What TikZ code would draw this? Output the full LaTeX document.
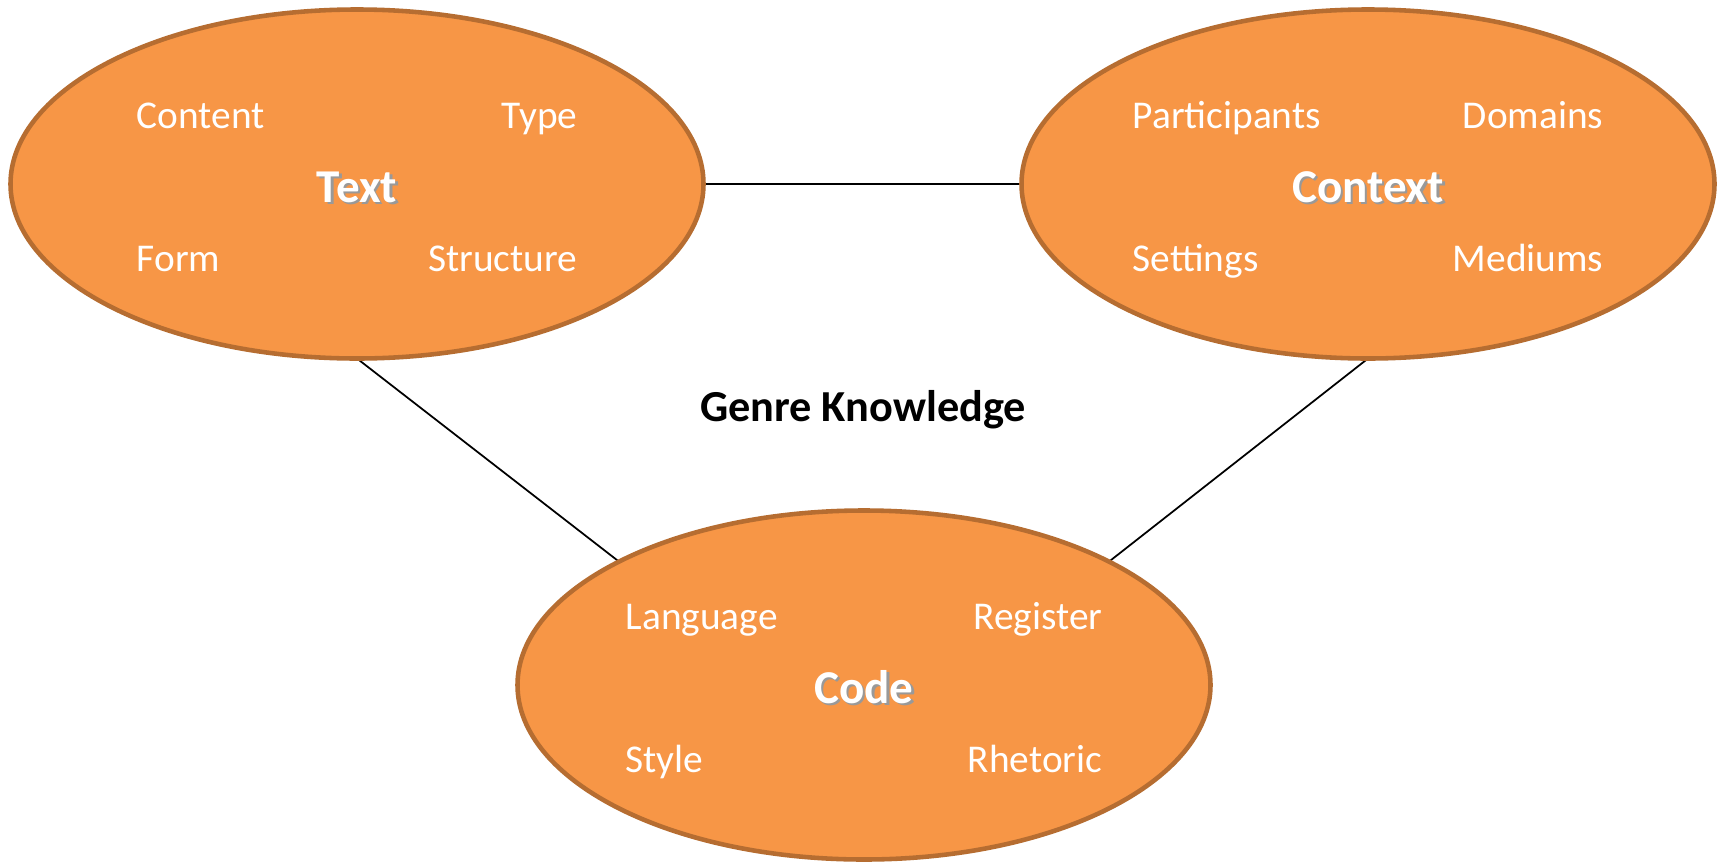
\documentclass[tikz,border=0pt]{standalone}
\usepackage{fontspec}
\setmainfont{Carlito}
\usetikzlibrary{shapes.geometric, positioning, calc}

\definecolor{genrefill}{HTML}{F79646}
\definecolor{genreline}{HTML}{B66D31}

% bold title with a soft drop shadow
\newcommand\shadowed[1]{\rlap{\hspace{0.7pt}\raisebox{-0.7pt}{\color{black!40}#1}}#1}

\begin{document}
\begin{tikzpicture}
  \newcommand\rowup{0.56}
  \newcommand\rowdown{0.87}

  \tikzset{genreell/.style={ellipse, draw=genreline, fill=genrefill, line width=1.3pt,
      minimum width=6.93cm, minimum height=3.49cm, inner sep=0pt, outer sep=0pt,
      text=white, font=\fontsize{13.4}{15}\selectfont\bfseries}}
  \tikzset{facet/.style={text=white, inner sep=0pt, font=\fontsize{11.2}{13}\selectfont}}
  \tikzset{link/.style={black, line width=0.5pt}}

  \useasboundingbox (0, 0) rectangle (17.23, 8.62);

  % links first, so the ellipses cover their ends
  \coordinate (text-c) at (3.57, 6.78);
  \coordinate (context-c) at (13.68, 6.78);
  \coordinate (code-c) at (8.64, 1.77);
  \draw[link] (text-c) -- (context-c);
  \draw[link] ($(text-c)+(0, -1.745)$) -- ($(code-c)+(135:3.465 and 1.745)$);
  \draw[link] ($(context-c)+(0, -1.745)$) -- ($(code-c)+(45:3.465 and 1.745)$);

  % the three parts
  \foreach \name/\title/\ul/\ur/\ll/\lr/\dx in {text/Text/Content/Type/Form/Structure/2.21,
      context/Context/Participants/Domains/Settings/Mediums/2.36,
      code/Code/Language/Register/Style/Rhetoric/2.39}{
    \node[genreell] at (\name-c) (\name) {\raisebox{-5.2pt}[0pt][0pt]{\shadowed{\title}}};
    \node[facet, anchor=base west] at ($(\name.center)+(-\dx, \rowup)$) (\name-ul) {\ul};
    \node[facet, anchor=base east] at ($(\name.center)+(\dx, \rowup)$) (\name-ur) {\ur};
    \node[facet, anchor=base west] at ($(\name.center)+(-\dx, -\rowdown)$) (\name-ll) {\ll};
    \node[facet, anchor=base east] at ($(\name.center)+(\dx, -\rowdown)$) (\name-lr) {\lr};
  }

  \node[font=\fontsize{12.6}{14}\selectfont\bfseries] at (8.63, 4.52) (genre) {Genre Knowledge};
\end{tikzpicture}
\end{document}
